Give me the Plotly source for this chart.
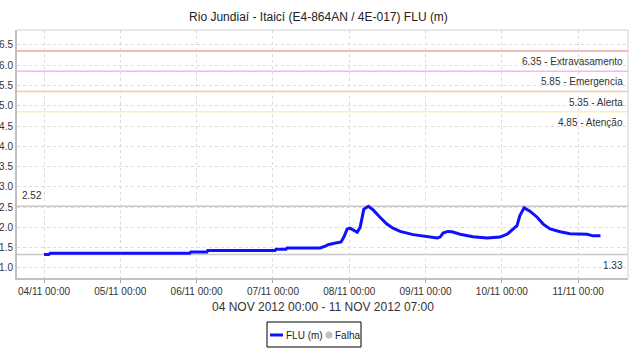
import plotly.graph_objects as go

# Water level readings (FLU, metres)
times = [
    "2012-11-04 00:00", "2012-11-04 01:30", "2012-11-04 02:00", "2012-11-05 21:50",
    "2012-11-05 22:10", "2012-11-06 03:15", "2012-11-06 03:30", "2012-11-07 00:40",
    "2012-11-07 01:00", "2012-11-07 04:05", "2012-11-07 04:25", "2012-11-07 14:50",
    "2012-11-07 16:40", "2012-11-07 17:20", "2012-11-07 19:00", "2012-11-07 19:50",
    "2012-11-07 21:25", "2012-11-07 22:25", "2012-11-07 23:20", "2012-11-08 00:15",
    "2012-11-08 01:10", "2012-11-08 02:30", "2012-11-08 03:25", "2012-11-08 04:35",
    "2012-11-08 06:00", "2012-11-08 07:30", "2012-11-08 09:40", "2012-11-08 11:50",
    "2012-11-08 13:45", "2012-11-08 16:00", "2012-11-08 20:05", "2012-11-09 00:30",
    "2012-11-09 03:40", "2012-11-09 04:35", "2012-11-09 05:30", "2012-11-09 07:00",
    "2012-11-09 08:20", "2012-11-09 10:50", "2012-11-09 14:55", "2012-11-09 19:20",
    "2012-11-09 23:25", "2012-11-10 01:40", "2012-11-10 03:35", "2012-11-10 04:45",
    "2012-11-10 05:40", "2012-11-10 07:00", "2012-11-10 08:50", "2012-11-10 11:05",
    "2012-11-10 13:00", "2012-11-10 15:10", "2012-11-10 18:20", "2012-11-10 21:25",
    "2012-11-11 02:50", "2012-11-11 04:40", "2012-11-11 07:00",
]
levels = [
    1.33, 1.33, 1.36, 1.36,
    1.39, 1.39, 1.43, 1.43,
    1.46, 1.46, 1.49, 1.49,
    1.54, 1.57, 1.60, 1.62,
    1.64, 1.78, 1.96, 1.98,
    1.94, 1.88, 2.00, 2.45,
    2.52, 2.43, 2.25, 2.08,
    1.98, 1.90, 1.82, 1.77,
    1.74, 1.76, 1.86, 1.90,
    1.89, 1.83, 1.77, 1.74,
    1.76, 1.83, 1.95, 2.04,
    2.29, 2.48, 2.40, 2.25,
    2.08, 1.96, 1.89, 1.84,
    1.83, 1.79, 1.79,
]

# Alert thresholds
threshold_values = [6.35, 5.85, 5.35, 4.85]
threshold_names = ["Extravasamento", "Emergencia", "Alerta", "Atenção"]
threshold_colors = ["#f4a0a0", "#f8b4f4", "#fcc89c", "#fcf0b0"]

max_level = 2.52
min_level = 1.33

x_ticks = ["2012-11-04", "2012-11-05", "2012-11-06", "2012-11-07",
           "2012-11-08", "2012-11-09", "2012-11-10", "2012-11-11"]
x_tick_text = ["04/11 00:00", "05/11 00:00", "06/11 00:00", "07/11 00:00",
               "08/11 00:00", "09/11 00:00", "10/11 00:00", "11/11 00:00"]
y_ticks = [1.0, 1.5, 2.0, 2.5, 3.0, 3.5, 4.0, 4.5, 5.0, 5.5, 6.0, 6.5]

legend_names = ["FLU (m)", "Falha"]

FONT = "Liberation Sans, Arial, sans-serif"
LINE_BLUE = "#1010ff"

W, H = 637, 348
ML, MR, MT, MB = 17, 9, 30, 70
PW, PH = W - ML - MR, H - MT - MB


def px_x(px):
    """Pixel column -> paper x."""
    return (px - ML) / PW


def px_y(py):
    """Pixel row -> paper y."""
    return (H - MB - py) / PH


fig = go.Figure()

shapes = []
annotations = []
for val, name, col in zip(threshold_values, threshold_names, threshold_colors):
    shapes.append(dict(type="line", xref="paper", x0=0, x1=1, yref="y", y0=val, y1=val,
                       line=dict(color=col, width=1.5), layer="below"))
    annotations.append(dict(xref="paper", x=0.995, yref="y", y=val, yshift=-3,
                            text=f"{val:.2f} - {name}", showarrow=False,
                            xanchor="right", yanchor="top",
                            font=dict(size=10, color="#333", family=FONT)))

for val in (max_level, min_level):
    shapes.append(dict(type="line", xref="paper", x0=0, x1=1, yref="y", y0=val, y1=val,
                       line=dict(color="#c8c8c8", width=1.5), layer="below"))
annotations.append(dict(xref="paper", x=0.005, yref="y", y=max_level, yshift=3,
                        text=f"{max_level:.2f}", showarrow=False,
                        xanchor="left", yanchor="bottom",
                        font=dict(size=10, color="#333", family=FONT)))
annotations.append(dict(xref="paper", x=0.995, yref="y", y=min_level, yshift=-3,
                        text=f"{min_level:.2f}", showarrow=False,
                        xanchor="right", yanchor="top",
                        font=dict(size=10, color="#333", family=FONT)))

# Axis caption with the period covered
annotations.append(dict(xref="paper", x=0.5, yref="paper", y=px_y(307),
                        text="04 NOV 2012 00:00 - 11 NOV 2012 07:00", showarrow=False,
                        xanchor="center", yanchor="middle",
                        font=dict(size=12, color="#333", family=FONT)))

# Compact boxed legend below the axis caption
shapes.append(dict(type="rect", xref="paper", yref="paper",
                   x0=px_x(267), x1=px_x(361), y0=px_y(347), y1=px_y(322),
                   line=dict(color="black", width=1), fillcolor="white"))
shapes.append(dict(type="line", xref="paper", yref="paper",
                   x0=px_x(270), x1=px_x(283), y0=px_y(335), y1=px_y(335),
                   line=dict(color=LINE_BLUE, width=3)))
annotations.append(dict(xref="paper", yref="paper", x=px_x(284), y=px_y(335),
                        text=legend_names[0], showarrow=False,
                        xanchor="left", yanchor="middle",
                        font=dict(size=10, color="#222", family=FONT)))
shapes.append(dict(type="circle", xref="paper", yref="paper",
                   x0=px_x(325.5), x1=px_x(332.5), y0=px_y(338.5), y1=px_y(331.5),
                   line=dict(color="#c0c0c0", width=0), fillcolor="#c0c0c0"))
annotations.append(dict(xref="paper", yref="paper", x=px_x(333), y=px_y(335),
                        text=legend_names[1], showarrow=False,
                        xanchor="left", yanchor="middle",
                        font=dict(size=10, color="#222", family=FONT)))

fig.add_trace(go.Scatter(x=times, y=levels, mode="lines", name=legend_names[0],
                         line=dict(color=LINE_BLUE, width=3), showlegend=False))

fig.update_layout(
    width=W, height=H,
    margin=dict(l=ML, r=MR, t=MT, b=MB, autoexpand=False),
    paper_bgcolor="white", plot_bgcolor="white",
    font=dict(family=FONT, size=10, color="#333"),
    title=dict(text="Rio Jundiaí - Itaicí (E4-864AN / 4E-017) FLU (m)",
               x=0.5, xanchor="center", y=1 - 17 / H, yanchor="middle",
               font=dict(size=12, color="#222", family=FONT)),
    shapes=shapes,
    annotations=annotations,
    showlegend=False,
)

fig.update_xaxes(
    type="date", range=["2012-11-03 15:30", "2012-11-11 15:40"],
    tickvals=x_ticks, ticktext=x_tick_text, automargin=False,
    showgrid=True, gridcolor="#dcdcdc", griddash="dot", gridwidth=1,
    showline=True, linecolor="#c0c0c0", linewidth=2,
    ticks="outside", ticklen=3, tickcolor="#aaa",
    tickfont=dict(size=10, color="#333", family=FONT),
    zeroline=False,
)
fig.update_yaxes(
    range=[0.75, 6.87], tickvals=y_ticks, ticktext=[f"{v:.1f}" for v in y_ticks],
    automargin=False,
    showgrid=True, gridcolor="#dcdcdc", griddash="dot", gridwidth=1,
    showline=True, linecolor="#c0c0c0", linewidth=2,
    ticks="",
    tickfont=dict(size=10, color="#333", family=FONT),
    zeroline=False,
)

# Light border on the top and right of the plotting area
fig.add_shape(type="line", xref="paper", yref="paper", x0=0, x1=1, y0=1, y1=1,
              line=dict(color="#d0d0d0", width=1))
fig.add_shape(type="line", xref="paper", yref="paper", x0=1, x1=1, y0=0, y1=1,
              line=dict(color="#d0d0d0", width=1))

fig.write_html("out.html")
